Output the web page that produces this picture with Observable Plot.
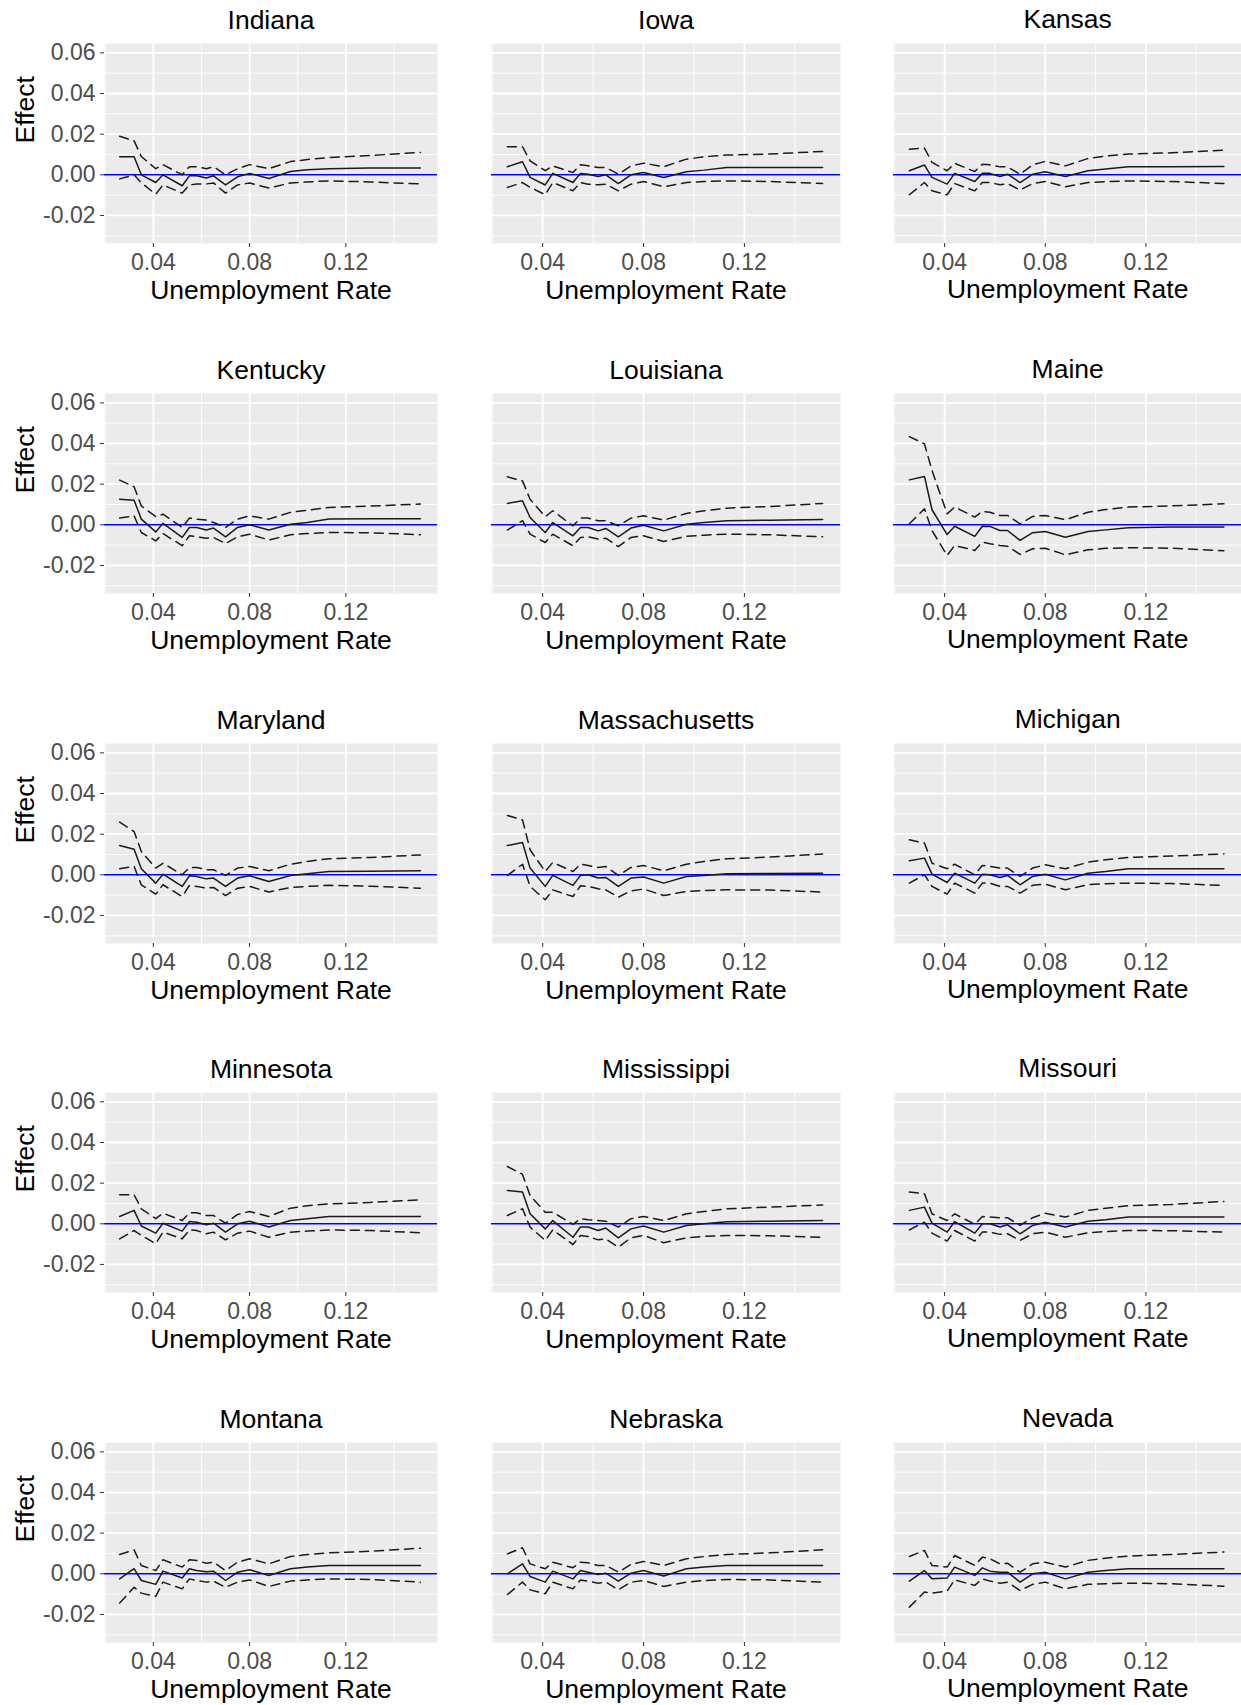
<!DOCTYPE html>
<html><head><meta charset="utf-8">
<script src="https://cdn.jsdelivr.net/npm/d3@7"></script>
<script src="https://cdn.jsdelivr.net/npm/@observablehq/plot@0.6"></script>
<style>
html,body{margin:0;padding:0;background:#fff;overflow:hidden;}
#chart{position:relative;width:1241px;height:1705px;overflow:hidden;}
#chart svg{position:absolute;}
</style></head><body><div id="chart"></div>
<script>
const states = ["Indiana","Iowa","Kansas","Kentucky","Louisiana","Maine","Maryland","Massachusetts","Michigan","Minnesota","Mississippi","Missouri","Montana","Nebraska","Nevada"];
const unemp = [0.026,0.032,0.035,0.041,0.044,0.052,0.055,0.058,0.062,0.065,0.070,0.075,0.080,0.088,0.097,0.104,0.113,0.130,0.151];

const effect = [
 [0.0089,0.0089,0.0,-0.0038,0.0,-0.0054,-0.0005,-0.0005,-0.0016,-0.0005,-0.005,-0.001,0.0007,-0.0018,0.0016,0.0025,0.003,0.0033,0.0033],
 [0.004,0.0064,-0.0013,-0.005,0.0007,-0.0038,0.0007,0.0003,-0.0008,0.0,-0.0043,0.0,0.0011,-0.0013,0.0015,0.0023,0.0036,0.0036,0.0036],
 [0.002,0.0048,-0.0013,-0.0046,0.0007,-0.0033,0.0007,0.0007,-0.0008,0.0003,-0.0038,0.0003,0.0015,-0.0008,0.002,0.0028,0.0039,0.0039,0.0041],
 [0.0126,0.0121,0.0028,-0.0035,0.0007,-0.0062,-0.0013,-0.0013,-0.0026,-0.0016,-0.0059,-0.0013,0.0,-0.0026,0.0003,0.0011,0.0028,0.003,0.003],
 [0.0105,0.0118,0.0036,-0.0038,0.0011,-0.0054,-0.0013,-0.0013,-0.003,-0.0018,-0.0059,-0.0016,-0.0002,-0.003,0.0003,0.0011,0.002,0.0023,0.0026],
 [0.0221,0.0238,0.0074,-0.0048,-0.0007,-0.0057,-0.0007,-0.0008,-0.0028,-0.0028,-0.0077,-0.0039,-0.0033,-0.0061,-0.0033,-0.0025,-0.0015,-0.0011,-0.0011],
 [0.0144,0.0126,0.003,-0.0041,0.0003,-0.0057,-0.0005,-0.0008,-0.002,-0.0016,-0.0057,-0.0016,-0.0005,-0.0033,-0.0003,0.0005,0.0016,0.0018,0.002],
 [0.0144,0.0159,0.0033,-0.0057,-0.0003,-0.0052,-0.0003,0.0,-0.0016,-0.0013,-0.0057,-0.0016,-0.0011,-0.0041,-0.0008,-0.0003,0.0005,0.0007,0.0008],
 [0.0069,0.0082,0.0003,-0.0038,0.0008,-0.0041,0.0003,0.0,-0.0013,-0.0003,-0.0049,-0.0008,0.0003,-0.0025,0.0008,0.0016,0.003,0.003,0.003],
 [0.0036,0.0066,-0.0011,-0.0046,0.0003,-0.0036,0.0011,0.0008,-0.0005,0.0003,-0.0041,0.0,0.0013,-0.0016,0.0016,0.0025,0.0036,0.0036,0.0036],
 [0.0164,0.0156,0.0049,-0.0025,0.0016,-0.0066,-0.0016,-0.0016,-0.0033,-0.0021,-0.0069,-0.0025,-0.0011,-0.0041,-0.0008,0.0,0.001,0.0013,0.0016],
 [0.0066,0.0082,0.0003,-0.0041,0.0011,-0.0046,0.0,0.0,-0.0016,-0.0005,-0.0049,-0.0008,0.0008,-0.0016,0.0013,0.002,0.0033,0.0033,0.0033],
 [-0.0025,0.0025,-0.0033,-0.0052,0.0013,-0.0021,0.0025,0.0016,0.001,0.0013,-0.0033,0.0008,0.002,-0.0008,0.0025,0.0033,0.0041,0.0041,0.0041],
 [0.0,0.0049,-0.0013,-0.0041,0.0013,-0.0025,0.0016,0.0008,-0.0003,0.0003,-0.0036,0.0003,0.0016,-0.0011,0.0025,0.0033,0.0041,0.0041,0.0041],
 [-0.0036,0.0016,-0.0025,-0.0021,0.0033,-0.0008,0.0029,0.0013,0.0008,0.0008,-0.0041,0.0,0.0008,-0.0025,0.0008,0.0016,0.0025,0.0025,0.0025]
];
const upper = [
 [0.019,0.0167,0.009,0.003,0.005,0.0,0.004,0.004,0.003,0.004,0.0,0.003,0.005,0.003,0.0065,0.0075,0.0085,0.0095,0.011],
 [0.0138,0.0138,0.0069,0.002,0.0044,0.0011,0.005,0.0044,0.0036,0.0036,0.0003,0.0044,0.0057,0.004,0.0077,0.0089,0.0097,0.0102,0.0115],
 [0.0126,0.0131,0.0061,0.002,0.0056,0.0016,0.0052,0.0049,0.0039,0.0039,0.0003,0.0049,0.0066,0.0044,0.008,0.0092,0.0102,0.0108,0.0121],
 [0.022,0.0187,0.0093,0.004,0.0052,-0.0013,0.0033,0.0028,0.0023,0.0011,-0.0013,0.0028,0.0044,0.0028,0.0061,0.0072,0.0085,0.0092,0.0102],
 [0.0236,0.0216,0.0126,0.004,0.0069,-0.0005,0.0033,0.0033,0.002,0.002,-0.0005,0.0033,0.0044,0.0023,0.0056,0.0069,0.0082,0.009,0.0105],
 [0.0434,0.0398,0.0267,0.0054,0.0087,0.0038,0.0066,0.0062,0.0046,0.0046,0.0005,0.0041,0.0046,0.0025,0.0062,0.0075,0.0087,0.0093,0.0103],
 [0.0259,0.0213,0.0115,0.0033,0.0057,0.0,0.0036,0.0036,0.0025,0.0025,-0.0003,0.0033,0.0041,0.002,0.0052,0.0066,0.0079,0.0085,0.0098],
 [0.0292,0.027,0.0123,0.0016,0.0061,0.0016,0.0052,0.0046,0.0036,0.0041,-0.0003,0.0036,0.0046,0.002,0.0052,0.0066,0.0079,0.0087,0.0102],
 [0.0172,0.0156,0.0057,0.003,0.0052,0.0,0.0046,0.0041,0.0033,0.0033,-0.0008,0.0033,0.0049,0.003,0.0062,0.0074,0.0085,0.0092,0.0103],
 [0.0143,0.0143,0.0074,0.0025,0.0052,0.0016,0.0054,0.0054,0.0041,0.0041,0.0003,0.0046,0.0061,0.0036,0.0077,0.0089,0.0098,0.0105,0.0118],
 [0.0282,0.0243,0.0139,0.0057,0.0057,-0.0003,0.0025,0.002,0.0016,0.0013,-0.0016,0.0025,0.0036,0.0016,0.0049,0.0061,0.0074,0.0082,0.0093],
 [0.0156,0.0148,0.0049,0.0016,0.0049,-0.0003,0.0036,0.0033,0.003,0.003,-0.0008,0.003,0.0052,0.0033,0.0066,0.0077,0.0089,0.0095,0.011],
 [0.0095,0.0118,0.0041,0.0016,0.0069,0.0033,0.0069,0.0066,0.0052,0.0057,0.0016,0.0057,0.0074,0.0049,0.0085,0.0095,0.0103,0.0111,0.0126],
 [0.0098,0.0128,0.0049,0.0025,0.0057,0.003,0.0057,0.0054,0.0041,0.0041,0.0008,0.0046,0.0061,0.0041,0.0074,0.0085,0.0095,0.0103,0.0118],
 [0.0085,0.0115,0.0041,0.0033,0.009,0.0041,0.0082,0.0074,0.0049,0.0052,0.0008,0.0049,0.0057,0.0033,0.0066,0.0077,0.0087,0.0095,0.0107]
];
const lower = [
 [-0.002,0.0,-0.004,-0.0095,-0.005,-0.009,-0.005,-0.0045,-0.0045,-0.004,-0.009,-0.005,-0.004,-0.0065,-0.004,-0.0035,-0.003,-0.0035,-0.0045],
 [-0.0062,-0.0038,-0.0062,-0.0098,-0.0038,-0.0079,-0.0038,-0.0046,-0.0049,-0.0046,-0.0079,-0.0046,-0.0033,-0.0059,-0.0038,-0.0033,-0.003,-0.0033,-0.0043],
 [-0.0098,-0.0038,-0.0079,-0.0098,-0.0043,-0.0079,-0.0038,-0.0038,-0.0049,-0.0043,-0.0075,-0.0043,-0.0033,-0.0059,-0.0038,-0.0034,-0.003,-0.0033,-0.0043],
 [0.0033,0.0044,-0.0038,-0.0079,-0.0043,-0.0103,-0.0054,-0.0059,-0.0066,-0.0062,-0.0092,-0.0059,-0.0046,-0.0075,-0.0049,-0.0043,-0.0038,-0.0039,-0.0049],
 [-0.0026,0.002,-0.0046,-0.0087,-0.0046,-0.0103,-0.0062,-0.0059,-0.007,-0.0066,-0.0107,-0.0062,-0.0054,-0.0082,-0.0057,-0.0051,-0.0046,-0.0049,-0.0059],
 [0.0005,0.0079,-0.0028,-0.0151,-0.0102,-0.0126,-0.0085,-0.0093,-0.0102,-0.0105,-0.0146,-0.0118,-0.0115,-0.0148,-0.0123,-0.0116,-0.0113,-0.0115,-0.0128],
 [0.003,0.0041,-0.0049,-0.0095,-0.0049,-0.0107,-0.0052,-0.0057,-0.0066,-0.0062,-0.0102,-0.0066,-0.0057,-0.0085,-0.0062,-0.0057,-0.0052,-0.0056,-0.0066],
 [-0.0003,0.0052,-0.0057,-0.0123,-0.0074,-0.0107,-0.0054,-0.0057,-0.0069,-0.0074,-0.011,-0.0079,-0.007,-0.0102,-0.0082,-0.0077,-0.0074,-0.0075,-0.0085],
 [-0.0041,0.0,-0.0057,-0.0095,-0.0041,-0.009,-0.0041,-0.0041,-0.0057,-0.0057,-0.009,-0.0052,-0.0046,-0.0074,-0.0049,-0.0044,-0.0041,-0.0043,-0.0052],
 [-0.0074,-0.0033,-0.0057,-0.0098,-0.0041,-0.0074,-0.003,-0.0033,-0.0049,-0.0041,-0.0079,-0.0046,-0.0036,-0.0066,-0.0041,-0.0036,-0.003,-0.0033,-0.0044],
 [0.0041,0.0074,-0.0016,-0.0082,-0.003,-0.0102,-0.0057,-0.0062,-0.0079,-0.0074,-0.0115,-0.0069,-0.0057,-0.0093,-0.0069,-0.0062,-0.0057,-0.0059,-0.0066],
 [-0.003,0.0008,-0.0046,-0.0085,-0.0033,-0.0085,-0.0041,-0.0041,-0.0052,-0.0049,-0.0082,-0.0049,-0.0041,-0.0066,-0.0044,-0.0038,-0.0033,-0.0034,-0.0041],
 [-0.0144,-0.0066,-0.0095,-0.0111,-0.0041,-0.0074,-0.0025,-0.0033,-0.0041,-0.0036,-0.0066,-0.0041,-0.003,-0.0062,-0.0036,-0.003,-0.0025,-0.0028,-0.0041],
 [-0.0102,-0.0041,-0.0079,-0.0098,-0.0041,-0.0074,-0.003,-0.0036,-0.0046,-0.0041,-0.0079,-0.0041,-0.0033,-0.0062,-0.0041,-0.0033,-0.0028,-0.003,-0.0041],
 [-0.0164,-0.009,-0.0095,-0.0085,-0.003,-0.0057,-0.0025,-0.0036,-0.0046,-0.0041,-0.0082,-0.0052,-0.0041,-0.0074,-0.0052,-0.0049,-0.0046,-0.0049,-0.0061]
];

const xTicks = [0.04, 0.08, 0.12];
const xMinor = [0.02, 0.06, 0.10, 0.14];
const yTicks = [-0.02, 0, 0.02, 0.04, 0.06];
const yMinor = [-0.03, -0.01, 0.01, 0.03, 0.05];
const xLabel = "Unemployment Rate";
const yLabel = "Effect";

// layout
const colLeft = [104, 491, 892.7];
const colWidth = [333, 349, 348.3];
const rowTop0 = 43, rowStep = 349.75, panelH = 200;
const mT = 43, mB = 66;
const font = "'Liberation Sans', Arial, Helvetica, sans-serif";
const fmt = d => d.toFixed(2);
const chart = document.getElementById("chart");

states.forEach((state, i) => {
  const col = i % 3, row = Math.floor(i / 3);
  const mL = col === 0 ? 104 : 12;
  const mR = col === 2 ? 0 : 4;
  const pw = colWidth[col];
  const data = unemp.map((x, k) => ({x, est: effect[i][k], lo: lower[i][k], hi: upper[i][k]}));
  const svg = Plot.plot({
    width: mL + pw + mR,
    height: mT + panelH + mB,
    marginLeft: mL, marginRight: mR, marginTop: mT, marginBottom: mB,
    x: {domain: [0.0197, 0.1581], axis: null},
    y: {domain: [-0.0338, 0.0646], axis: null},
    style: {fontFamily: font, background: "transparent", overflow: "visible"},
    marks: [
      Plot.frame({fill: "#EBEBEB", stroke: null}),
      Plot.ruleX(xMinor, {stroke: "white", strokeWidth: 0.9}),
      Plot.ruleY(yMinor, {stroke: "white", strokeWidth: 0.9}),
      Plot.ruleX(xTicks, {stroke: "white", strokeWidth: 1.8}),
      Plot.ruleY(yTicks, {stroke: "white", strokeWidth: 1.8}),
      Plot.ruleY([0], {stroke: "#0000FF", strokeWidth: 1.6}),
      Plot.line(data, {x: "x", y: "hi", stroke: "#1a1a1a", strokeWidth: 1.5, strokeDasharray: "9,6"}),
      Plot.line(data, {x: "x", y: "lo", stroke: "#1a1a1a", strokeWidth: 1.5, strokeDasharray: "9,6"}),
      Plot.line(data, {x: "x", y: "est", stroke: "#1a1a1a", strokeWidth: 1.5}),
      Plot.axisX({ticks: xTicks, tickFormat: fmt, tickSize: 4, tickPadding: 6, fontSize: 23, stroke: "#333333", fill: "#4D4D4D", label: null}),
      col === 0 ? Plot.axisY({ticks: yTicks, tickFormat: fmt, tickSize: 4, tickPadding: 5, fontSize: 23, stroke: "#333333", fill: "#4D4D4D", label: null}) : null,
      Plot.text([state], {text: d => d, frameAnchor: "top", dy: -15, lineAnchor: "bottom", fontSize: 26.5, fill: "black"}),
      Plot.text([xLabel], {text: d => d, frameAnchor: "bottom", dy: 55, lineAnchor: "bottom", fontSize: 26.5, fill: "black"}),
      col === 0 ? Plot.text([yLabel], {text: d => d, frameAnchor: "left", dx: -71, rotate: -90, lineAnchor: "bottom", fontSize: 26.5, fill: "black"}) : null
    ]
  });
  svg.style.left = (colLeft[col] - mL) + "px";
  svg.style.top = (rowTop0 + row * rowStep - mT) + "px";
  chart.appendChild(svg);
});
</script>
</body></html>
